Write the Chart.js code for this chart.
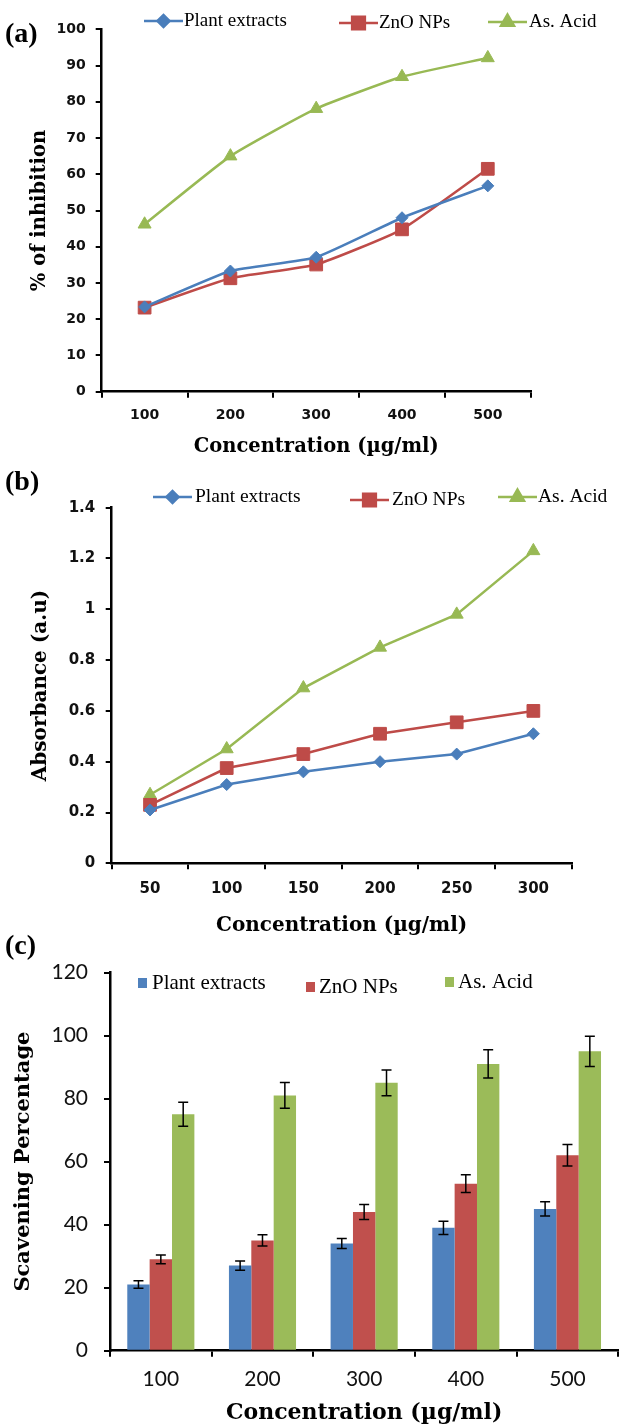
<!DOCTYPE html>
<html>
<head>
<meta charset="utf-8">
<script src="https://cdn.jsdelivr.net/npm/chart.js@4.4.0/dist/chart.umd.min.js"></script>
<style>
    html, body { margin: 0; padding: 0; background: #fff; }
    #wrap { position: relative; width: 619px; height: 1428px; overflow: hidden; }
    canvas { position: absolute; left: 0; }
    .tag { position: absolute; left: 5px; font: bold 28px 'Liberation Serif', serif; color: #000; line-height: 28px; }
</style>
</head>
<body>
<div id="wrap">
    <canvas id="chartA" width="619" height="470" style="top:0"></canvas>
    <canvas id="chartB" width="619" height="470" style="top:470px"></canvas>
    <canvas id="chartC" width="619" height="488" style="top:940px"></canvas>
    <div class="tag" style="top:19px">(a)</div>
    <div class="tag" style="top:467px">(b)</div>
    <div class="tag" style="top:931px">(c)</div>
</div>
<script>
// (a) % of inhibition
const concA = ['100', '200', '300', '400', '500'];
const plantA = [23.4, 33.3, 37.1, 48.0, 56.8];
const znoA = [23.2, 31.3, 35.1, 44.8, 61.5];
const acidA = [46.2, 65.0, 78.1, 86.9, 92.1];

// (b) absorbance
const concB = ['50', '100', '150', '200', '250', '300'];
const plantB = [0.21, 0.31, 0.36, 0.40, 0.43, 0.51];
const znoB = [0.23, 0.375, 0.43, 0.51, 0.555, 0.60];
const acidB = [0.27, 0.45, 0.69, 0.85, 0.98, 1.23];

// (c) scavenging with error bars
const concC = ['100', '200', '300', '400', '500'];
const plantC = [21, 27, 34, 39, 45];
const plantErrC = [1.2, 1.5, 1.6, 2.1, 2.3];
const znoC = [29, 35, 44, 53, 62];
const znoErrC = [1.4, 1.8, 2.4, 2.8, 3.4];
const acidC = [75, 81, 85, 91, 95];
const acidErrC = [3.8, 4.1, 4.1, 4.5, 4.8];

const seriesNames = ['Plant extracts', 'ZnO NPs', 'As. Acid'];

const BLUE = '#4A7EBB';
const RED = '#BE4B48';
const GREEN = '#98B954';

const errorBars = {
    id: 'errorBars',
    afterDatasetsDraw(chart) {
        const ctx = chart.ctx;
        const y = chart.scales.y;
        chart.data.datasets.forEach((ds, i) => {
            if (!ds.errors) return;
            const meta = chart.getDatasetMeta(i);
            ctx.save();
            ctx.strokeStyle = '#000';
            ctx.lineWidth = 1.5;
            meta.data.forEach((bar, j) => {
                const top = y.getPixelForValue(ds.data[j] + ds.errors[j]);
                const bot = y.getPixelForValue(ds.data[j] - ds.errors[j]);
                ctx.beginPath();
                ctx.moveTo(bar.x, top); ctx.lineTo(bar.x, bot);
                ctx.moveTo(bar.x - 5, top); ctx.lineTo(bar.x + 5, top);
                ctx.moveTo(bar.x - 5, bot); ctx.lineTo(bar.x + 5, bot);
                ctx.stroke();
            });
            ctx.restore();
        });
    }
};

// excel-like legend drawn by hand (line + marker, or small square for bars)
const sketchLegend = {
    id: 'sketchLegend',
    afterDraw(chart, args, opts) {
        if (!opts.items) return;
        const ctx = chart.ctx;
        chart.data.datasets.forEach((ds, i) => {
            const it = opts.items[i];
            ctx.save();
            if (opts.bars) {
                ctx.fillStyle = ds.backgroundColor;
                ctx.fillRect(it.x, it.y - 5, 9, 10);
            } else {
                ctx.strokeStyle = ds.borderColor;
                ctx.lineWidth = 2.5;
                ctx.beginPath();
                ctx.moveTo(it.x, it.y);
                ctx.lineTo(it.x + 39, it.y);
                ctx.stroke();
                ctx.fillStyle = ds.pointBackgroundColor;
                ctx.strokeStyle = ds.pointBackgroundColor;
                Chart.helpers.drawPoint(ctx, { pointStyle: ds.pointStyle, radius: ds.pointRadius, borderWidth: 1 }, it.x + 19.5, it.y);
            }
            ctx.fillStyle = '#000';
            ctx.font = opts.font;
            ctx.textBaseline = 'middle';
            ctx.fillText(ds.label, it.tx, it.y);
            ctx.restore();
        });
    }
};

function lineSet(label, data, color, style, radius, tension) {
    return {
        label,
        data,
        borderColor: color,
        backgroundColor: color,
        pointBackgroundColor: color,
        pointBorderColor: color,
        pointBorderWidth: 1,
        pointStyle: style,
        pointRadius: radius,
        borderWidth: 2.5,
        tension: tension
    };
}

function axisX(fontSpec, pad, height, titleFont, titleBottom) {
    return {
        type: 'category',
        offset: true,
        afterFit: (s) => { s.height = height; },
        grid: { display: true, offset: true, drawOnChartArea: false, drawTicks: true, tickLength: 6, color: '#000', lineWidth: 2 },
        border: { display: true, color: '#000', width: 2.5 },
        ticks: { color: '#111', font: fontSpec, padding: pad, maxRotation: 0 },
        title: { display: true, text: 'Concentration (µg/ml)', color: '#000', font: titleFont, padding: { top: 0, bottom: titleBottom } }
    };
}

function axisY(max, step, fontSpec, pad, width, title, titleFont, titleTop) {
    return {
        min: 0,
        max,
        afterFit: (s) => { s.width = width; },
        grid: { display: true, drawOnChartArea: false, drawTicks: true, tickLength: 6, color: '#000', lineWidth: 2 },
        border: { display: true, color: '#000', width: 2.5 },
        // excel "general" number format: 1 rather than 1.0
        ticks: { stepSize: step, color: '#111', font: fontSpec, padding: pad, callback: (v) => `${parseFloat(v.toFixed(2))}` },
        title: { display: true, text: title, color: '#000', font: titleFont, padding: { top: titleTop, bottom: 0 } }
    };
}

const tickBold = (size) => ({ family: 'DejaVu Sans', weight: 'bold', size });
const titleFont = (size) => ({ family: 'DejaVu Serif', weight: 'bold', size, lineHeight: 1.2 });

new Chart(document.getElementById('chartA'), {
    type: 'line',
    data: {
        labels: concA,
        datasets: [
            lineSet(seriesNames[0], plantA, BLUE, 'rectRot', 6, 0.15),
            lineSet(seriesNames[1], znoA, RED, 'rect', 9, 0.15),
            lineSet(seriesNames[2], acidA, GREEN, 'triangle', 7.5, 0.15)
        ]
    },
    options: {
        responsive: false,
        animation: false,
        layout: { padding: { left: 0, top: 29.3, right: 88.3, bottom: 0 } },
        plugins: {
            legend: { display: false },
            tooltip: { enabled: false },
            sketchLegend: {
                font: '19px "Liberation Serif"',
                items: [{ x: 144, tx: 184, y: 21 }, { x: 339, tx: 379, y: 23 }, { x: 488, tx: 529, y: 22 }]
            }
        },
        scales: {
            x: axisX(tickBold(14), 9, 78.3, titleFont(19.5), 11.3),
            y: axisY(100, 10, tickBold(14), 10, 101.7, '% of inhibition', titleFont(19.5), 28.3)
        }
    },
    plugins: [sketchLegend]
});

new Chart(document.getElementById('chartB'), {
    type: 'line',
    data: {
        labels: concB,
        datasets: [
            lineSet(seriesNames[0], plantB, BLUE, 'rectRot', 6, 0),
            lineSet(seriesNames[1], znoB, RED, 'rect', 9, 0),
            lineSet(seriesNames[2], acidB, GREEN, 'triangle', 7.5, 0)
        ]
    },
    options: {
        responsive: false,
        animation: false,
        layout: { padding: { left: 0, top: 37.7, right: 47.3, bottom: 0 } },
        plugins: {
            legend: { display: false },
            tooltip: { enabled: false },
            sketchLegend: {
                font: '19.5px "Liberation Serif"',
                items: [{ x: 153, tx: 195, y: 27 }, { x: 350, tx: 392, y: 30 }, { x: 498, tx: 538, y: 27 }]
            }
        },
        scales: {
            x: axisX(tickBold(15), 11, 76.7, titleFont(20), 2),
            y: axisY(1.4, 0.2, tickBold(15), 10.5, 111.7, 'Absorbance (a.u)', titleFont(20), 29)
        }
    },
    plugins: [sketchLegend]
});

new Chart(document.getElementById('chartC'), {
    type: 'bar',
    data: {
        labels: concC,
        datasets: [
            { label: seriesNames[0], data: plantC, errors: plantErrC, backgroundColor: '#4F81BD' },
            { label: seriesNames[1], data: znoC, errors: znoErrC, backgroundColor: '#C0504D' },
            { label: seriesNames[2], data: acidC, errors: acidErrC, backgroundColor: '#9BBB59' }
        ]
    },
    options: {
        responsive: false,
        animation: false,
        datasets: { bar: { barPercentage: 1, categoryPercentage: 0.66 } },
        layout: { padding: { left: 0, top: 32.5, right: 0.7, bottom: 0 } },
        plugins: {
            legend: { display: false },
            tooltip: { enabled: false },
            sketchLegend: {
                bars: true,
                font: '21px "Liberation Serif"',
                items: [{ x: 138, tx: 152, y: 43 }, { x: 306, tx: 319, y: 47 }, { x: 445, tx: 458, y: 42 }]
            }
        },
        scales: {
            x: axisX({ family: 'Lato', size: 21 }, 10, 77.3, titleFont(22), 1.8),
            y: axisY(120, 20, { family: 'Lato', size: 21 }, 16, 110, 'Scavening Percentage', titleFont(21), 11.4)
        }
    },
    plugins: [errorBars, sketchLegend]
});
</script>
</body>
</html>
